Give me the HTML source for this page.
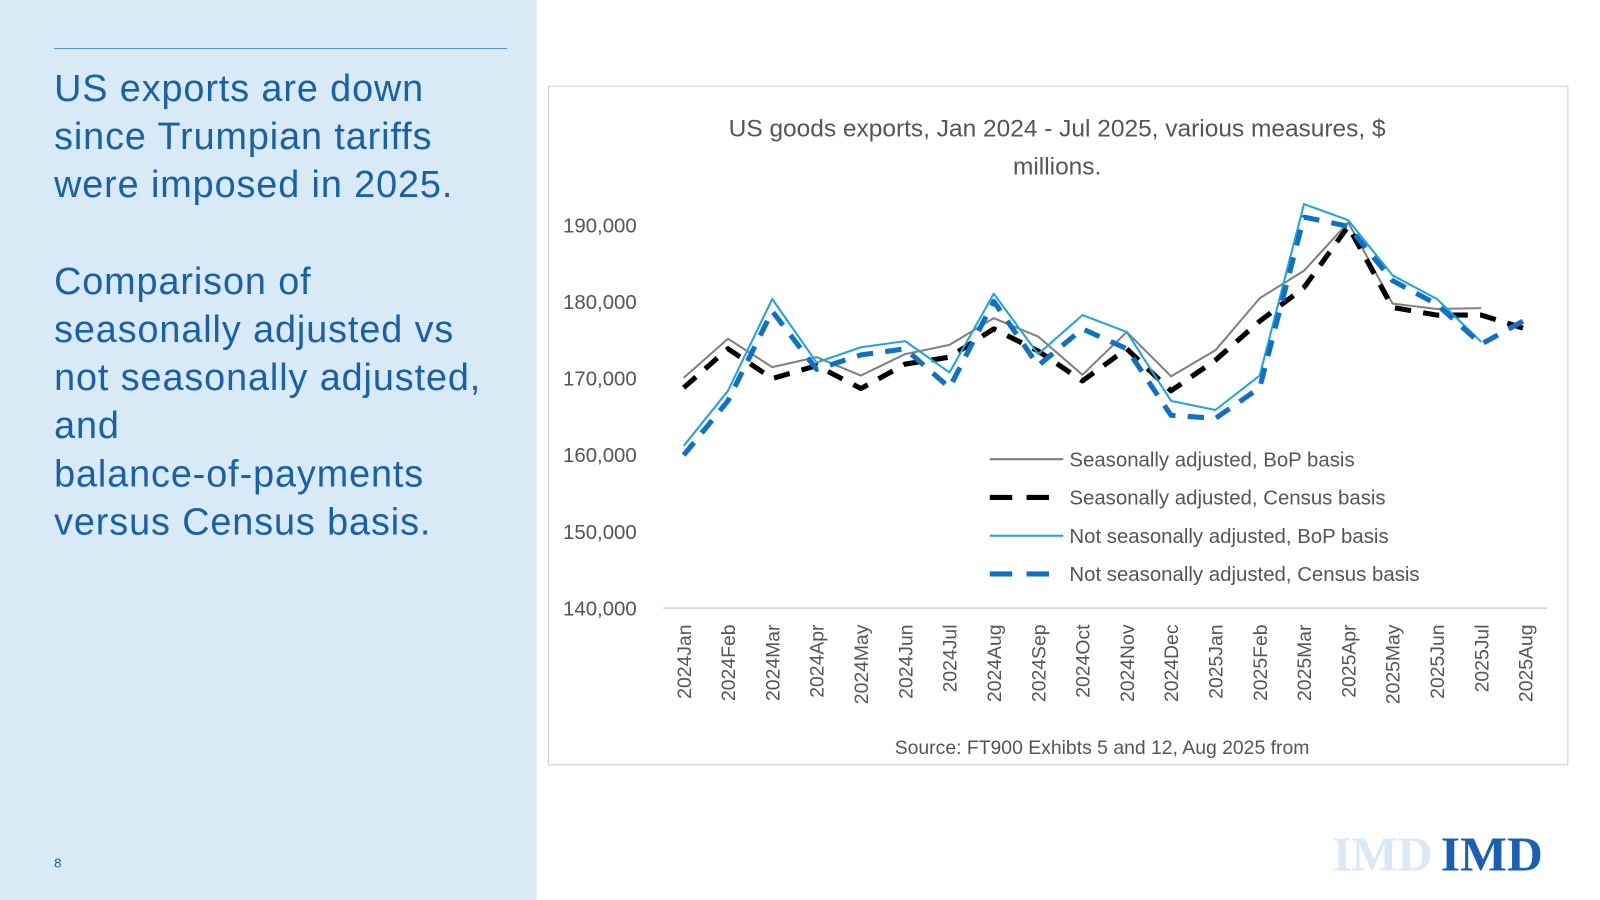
<!DOCTYPE html>
<html><head><meta charset="utf-8">
<style>
html,body{margin:0;padding:0;width:1600px;height:900px;overflow:hidden;background:#fff;}
#stage{position:absolute;left:0;top:0;width:1568px;height:882px;transform:scale(1.020408);transform-origin:0 0;font-family:"Liberation Sans",sans-serif;}
#left{position:absolute;left:0;top:0;width:526px;height:882px;background:#d7eaf6;}
#rule{position:absolute;left:53px;top:47px;width:444px;height:1px;background:#5a8fc8;}
#txt{position:absolute;left:53px;top:63px;width:470px;color:#1a5fa8;font-size:37px;line-height:47.2px;letter-spacing:0.9px;}
#pg{position:absolute;left:53px;top:838px;font-size:13px;color:#1a5fa8;}
#chartbox{position:absolute;left:537px;top:84px;width:998px;height:664px;border:1.5px solid #d0d0d0;background:#fff;}
svg text{font-family:"Liberation Sans",sans-serif;}
svg text.logo{font-family:"Liberation Serif",serif;font-weight:bold;}
</style></head><body>
<div id="stage">
<div id="left">
<div id="rule"></div>
<div id="txt">US exports are down<br>since Trumpian tariffs<br>were imposed in 2025.<br><br>Comparison of<br>seasonally adjusted vs<br>not seasonally adjusted,<br>and<br>balance-of-payments<br>versus Census basis.</div>
<div id="pg">8</div>
</div>
<div id="chartbox"></div>
<svg id="chart" width="1568" height="882" style="position:absolute;left:0;top:0">
<text x="1036" y="134" text-anchor="middle" font-size="24" fill="#555">US goods exports, Jan 2024 - Jul 2025, various measures, $</text>
<text x="1036" y="171" text-anchor="middle" font-size="24" fill="#555">millions.</text>
<g id="axes"></g><g id="series"></g><g id="legend"></g>
<text x="1080" y="739" text-anchor="middle" font-size="19" fill="#555">Source: FT900 Exhibts 5 and 12, Aug 2025 from</text>
<text class="logo" x="1306" y="853" font-size="48" fill="#dbe9f5" textLength="98" lengthAdjust="spacingAndGlyphs">IMD</text>
<text class="logo" x="1412" y="853" font-size="48" fill="#1a5fb4" textLength="100" lengthAdjust="spacingAndGlyphs">IMD</text>
</svg>
</div>
<script>
const categories=["2024Jan","2024Feb","2024Mar","2024Apr","2024May","2024Jun","2024Jul","2024Aug","2024Sep","2024Oct","2024Nov","2024Dec","2025Jan","2025Feb","2025Mar","2025Apr","2025May","2025Jun","2025Jul","2025Aug"];
const yTicks=[140000,150000,160000,170000,180000,190000];
const saBop=[170100,175200,171500,172800,170400,173200,174400,177900,175500,170500,176100,170300,173700,180500,184100,190400,179800,179100,179200,null];
const saCensus=[168800,173900,170000,171700,168700,171900,172800,176500,173600,169700,173900,168400,172400,177500,181900,189900,179300,178300,178300,176500];
const nsaBop=[161200,168400,180400,172100,174100,174900,170800,181100,173200,178300,176100,167100,165900,170400,192800,190700,183500,180400,174800,null];
const nsaCensus=[160000,167100,178800,171200,173100,173900,168800,180100,171700,176500,173900,165200,164800,168800,191100,189900,182800,179700,174500,177700];
const seriesNames=["Seasonally adjusted, BoP basis","Seasonally adjusted, Census basis","Not seasonally adjusted, BoP basis","Not seasonally adjusted, Census basis"];
const NS="http://www.w3.org/2000/svg";
const x=i=>670+i*(1495-670)/(categories.length-1);
const y=v=>596-(v-140000)*(596-221)/50000;
function mk(t,a,p){const e=document.createElementNS(NS,t);for(const k in a)e.setAttribute(k,a[k]);p.appendChild(e);return e;}
const axes=document.getElementById('axes');
const ax=mk('line',{x1:650,x2:1516,y1:596,y2:596,stroke:'#d0d0d0','stroke-width':1.5},axes);


yTicks.forEach(v=>{const t=mk('text',{x:624,y:y(v)+7,'text-anchor':'end','font-size':20,fill:'#555'},axes);t.textContent=v.toLocaleString('en-US');

});
categories.forEach((c,i)=>{const t=mk('text',{x:0,y:0,'text-anchor':'end','font-size':19,fill:'#555',transform:`translate(${x(i)+7},612) rotate(-90)`},axes);t.textContent=c;

});
const styles=[{stroke:'#808080',w:2,d:''},{stroke:'#000',w:5,d:'16 12'},{stroke:'#1ca5e0',w:2,d:''},{stroke:'#1071c2',w:5,d:'16 12'}];
const data=[saBop,saCensus,nsaBop,nsaCensus];
const sg=document.getElementById('series');
const sn=['series-sa-bop','series-sa-census','series-nsa-bop','series-nsa-census'];
data.forEach((arr,k)=>{let d='';arr.forEach((v,i)=>{if(v==null)return;d+=(d?'L':'M')+x(i).toFixed(1)+','+y(v).toFixed(1);});
const p=mk('path',{d:d,fill:'none',stroke:styles[k].stroke,'stroke-width':styles[k].w,'stroke-dasharray':styles[k].d,'stroke-linejoin':'round'},sg);

});
const lg=document.getElementById('legend');
seriesNames.forEach((n,k)=>{const yy=450+k*37.5;
const g=mk('g',{},lg);


mk('line',{x1:970,x2:1042,y1:yy,y2:yy,stroke:styles[k].stroke,'stroke-width':styles[k].w,'stroke-dasharray':styles[k].d?'22 14':''},g);
const t=mk('text',{x:1048,y:yy+7,'font-size':20,fill:'#555'},g);t.textContent=n;});
</script>
</body></html>
